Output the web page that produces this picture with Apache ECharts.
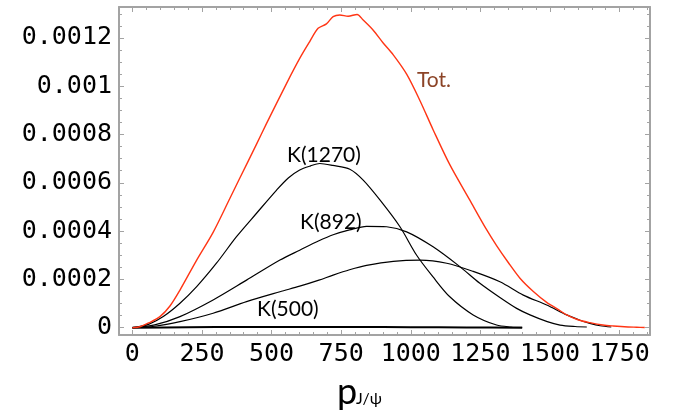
<!DOCTYPE html>
<html>
<head>
<meta charset="utf-8">
<script src="https://cdn.jsdelivr.net/npm/echarts@6/dist/echarts.min.js"></script>
<style>
html,body{margin:0;padding:0;background:#fff;}
#c{width:678px;height:418px;}
</style>
</head>
<body>
<div id="c"></div>
<script>
// ---- data ----
const xTickValues = [0, 250, 500, 750, 1000, 1250, 1500, 1750];
const yTickValues = [0, 0.0002, 0.0004, 0.0006, 0.0008, 0.001, 0.0012];

const totP = [0,30,59,99,135,171,231,290,350,386,446,482,554,601,637,667,697,721,745,775,807,829,865,900,937,985,1033,1080,1140,1212,1270,1308,1350,1392,1440,1488,1530,1560,1600,1643,1690,1727,1780,1811,1840];
const totV = [0,0.05e-4,0.2e-4,0.46e-4,0.9e-4,1.56e-4,2.8e-4,3.95e-4,5.35e-4,6.2e-4,7.6e-4,8.46e-4,10.12e-4,11.15e-4,11.85e-4,12.4e-4,12.58e-4,12.88e-4,12.95e-4,12.90e-4,12.97e-4,12.74e-4,12.32e-4,11.8e-4,11.3e-4,10.5e-4,9.4e-4,8.2e-4,6.75e-4,5.28e-4,4.1e-4,3.4e-4,2.7e-4,2.05e-4,1.5e-4,1.05e-4,0.75e-4,0.53e-4,0.33e-4,0.21e-4,0.11e-4,0.07e-4,0.03e-4,0.02e-4,0.01e-4];

const k1270P = [0,60,111,170,231,302,374,446,518,560,601,640,673,720,781,829,889,961,1021,1080,1140,1224,1308,1360,1400];
const k1270V = [0,0.15e-4,0.46e-4,1.0e-4,1.7e-4,2.67e-4,3.77e-4,4.74e-4,5.7e-4,6.2e-4,6.53e-4,6.7e-4,6.8e-4,6.72e-4,6.56e-4,6.11e-4,5.29e-4,4.18e-4,3.0e-4,2.1e-4,1.28e-4,0.53e-4,0.11e-4,0.03e-4,0.01e-4];

const k892P = [0,80,171,290,410,530,601,670,721,780,841,913,985,1080,1176,1248,1320,1380,1428,1490,1536,1590,1632];
const k892V = [0,0.12e-4,0.46e-4,1.15e-4,1.97e-4,2.8e-4,3.21e-4,3.6e-4,3.85e-4,4.05e-4,4.2e-4,4.18e-4,3.97e-4,3.35e-4,2.53e-4,1.84e-4,1.25e-4,0.8e-4,0.53e-4,0.25e-4,0.11e-4,0.05e-4,0.03e-4];

const broadP = [0,80,171,290,410,530,601,670,721,780,841,937,1033,1129,1224,1320,1404,1488,1560,1610,1643,1680,1720];
const broadV = [0,0.06e-4,0.25e-4,0.6e-4,1.08e-4,1.49e-4,1.72e-4,1.97e-4,2.18e-4,2.4e-4,2.58e-4,2.75e-4,2.8e-4,2.67e-4,2.33e-4,1.9e-4,1.35e-4,0.94e-4,0.53e-4,0.3e-4,0.18e-4,0.08e-4,0.03e-4];

const k500P = [0,200,400,600,800,1000,1200,1400];
const k500V = [0,0.02e-4,0.03e-4,0.03e-4,0.03e-4,0.02e-4,0.01e-4,0];

const curveLabels = ["Tot.", "K(1270)", "K(892)", "K(500)"];
const axisTitleMain = "p";
const axisTitleSub = "J/ψ";

// ---- build ----
function zip(a, b) { return a.map((v, i) => [v, b[i]]); }

const xMin = -48, xMax = 1859;
const yMin = -0.0000302, yMax = 0.001328;

const xMinor = [];
for (let i = 0; i <= 37; i++) { const v = i * 50; if (v % 250 !== 0) xMinor.push(v); }
const yMinor = [];
for (let i = 0; i <= 26; i++) { if (i % 4 !== 0) yMinor.push(+(i * 0.00005).toFixed(6)); }

const frameColor = '#a3a3a3';
const tickFont = { fontFamily: 'DejaVu Sans Mono', fontSize: 25, color: '#000' };

function makeAxis(type, pos, ticks, major, withLine, withLabel, labelSet) {
  const isX = type === 'x';
  return {
    type: 'value', position: pos,
    min: isX ? xMin : yMin, max: isX ? xMax : yMax,
    axisLine: { show: withLine, onZero: false, lineStyle: { color: frameColor, width: 2 } },
    axisTick: { show: true, inside: true, length: major ? 5 : 3, customValues: ticks, lineStyle: { color: frameColor, width: 1 } },
    axisLabel: withLabel
      ? Object.assign({ show: true, customValues: labelSet, margin: 7, showMinLabel: true, showMaxLabel: true,
          formatter: v => (labelSet.indexOf(v) >= 0 ? String(v) : '') }, tickFont)
      : { show: false, customValues: ticks, formatter: () => '' },
    splitLine: { show: false }
  };
}

const blackLine = { color: '#000', width: 1.2 };
function lineSeries(name, data, style) {
  return { name, type: 'line', data, xAxisIndex: 0, yAxisIndex: 0, showSymbol: false, symbol: 'none',
    smooth: 0.3, lineStyle: style, itemStyle: { color: style.color }, animation: false };
}

const chart = echarts.init(document.getElementById('c'), null, { renderer: 'canvas' });
chart.setOption({
  backgroundColor: '#fff',
  animation: false,
  grid: { left: 119, top: 7, width: 531, height: 328, containLabel: false },
  xAxis: [
    makeAxis('x', 'bottom', xTickValues, true, true, true, xTickValues),
    makeAxis('x', 'bottom', xMinor, false, false, false),
    makeAxis('x', 'top', xTickValues, true, true, false),
    makeAxis('x', 'top', xMinor, false, false, false)
  ],
  yAxis: [
    makeAxis('y', 'left', yTickValues, true, true, true, yTickValues),
    makeAxis('y', 'left', yMinor, false, false, false),
    makeAxis('y', 'right', yTickValues, true, true, false),
    makeAxis('y', 'right', yMinor, false, false, false)
  ],
  series: [
    lineSeries('K(500)', zip(k500P, k500V), { color: '#000', width: 2 }),
    lineSeries('broad', zip(broadP, broadV), blackLine),
    lineSeries('K(892)', zip(k892P, k892V), blackLine),
    lineSeries('K(1270)', zip(k1270P, k1270V), blackLine),
    lineSeries('Tot.', zip(totP, totV), { color: '#ff3514', width: 1.4 })
  ],
  graphic: [
    { type: 'text', x: 417, y: 80, style: { text: curveLabels[0], fill: '#8c4427', font: '21px Lato', textVerticalAlign: 'middle' } },
    { type: 'text', x: 287, y: 155, style: { text: curveLabels[1], fill: '#000', font: '21px Lato', textVerticalAlign: 'middle' } },
    { type: 'text', x: 300, y: 222, style: { text: curveLabels[2], fill: '#000', font: '21px Lato', textVerticalAlign: 'middle' } },
    { type: 'text', x: 257, y: 309, style: { text: curveLabels[3], fill: '#000', font: '21px Lato', textVerticalAlign: 'middle' } },
    { type: 'text', x: 337, y: 410, style: { text: axisTitleMain, fill: '#000', font: '36px Lato', textVerticalAlign: 'bottom' } },
    { type: 'text', x: 356, y: 407, style: { text: axisTitleSub, fill: '#000', font: '16px Lato', textVerticalAlign: 'bottom' } }
  ]
});
</script>
</body>
</html>
